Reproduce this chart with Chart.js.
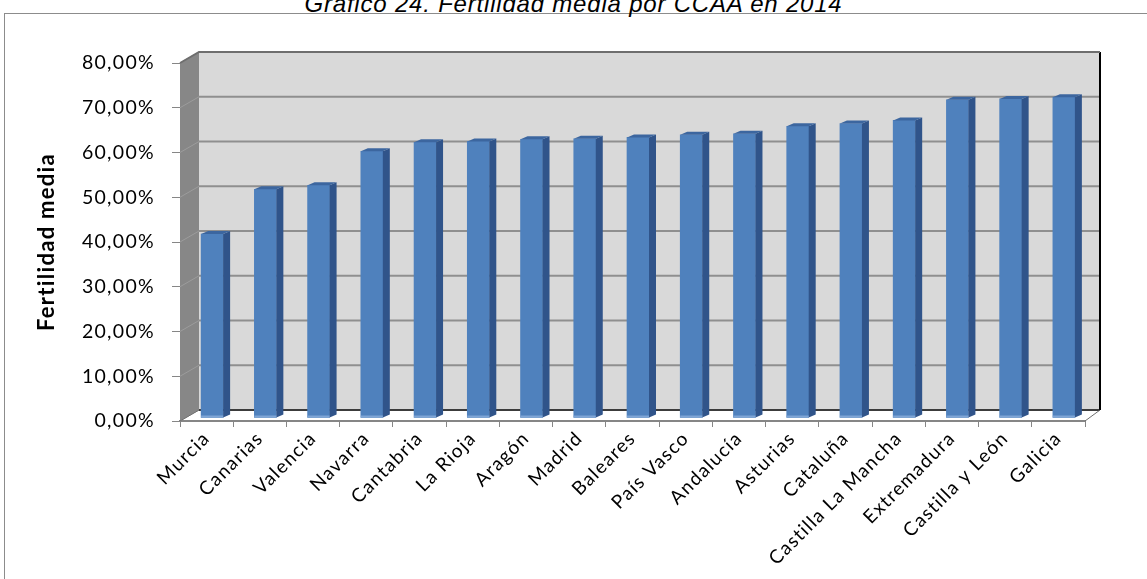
<!DOCTYPE html>
<html>
<head>
<meta charset="utf-8">
<script src="https://cdn.jsdelivr.net/npm/chart.js@4.4.1/dist/chart.umd.min.js"></script>
<style>
  html, body { margin: 0; padding: 0; background: #fff; overflow: hidden; }
  #wrap { position: relative; width: 1147px; height: 579px; }
  #frame { position: absolute; left: 4px; top: 13px; width: 1300px; height: 700px; border: 1px solid #8c8c8c; }
  #title { position: absolute; left: 0; top: -8px; width: 1147px; text-align: center;
           font: italic 24px "Liberation Sans", Arial, sans-serif; letter-spacing: 0.8px; line-height: 1; color: #000; }
  #box { position: absolute; left: 0; top: 0; width: 1147px; height: 579px; }
</style>
</head>
<body>
<div id="wrap">
  <div id="frame"></div>
  <div id="title">Gráfico 24. Fertilidad media por CCAA en 2014</div>
  <div id="box"><canvas id="chart"></canvas></div>
</div>
<script>
const categories = ['Murcia', 'Canarias', 'Valencia', 'Navarra', 'Cantabria', 'La Rioja', 'Aragón',
  'Madrid', 'Baleares', 'País Vasco', 'Andalucía', 'Asturias', 'Cataluña', 'Castilla La Mancha',
  'Extremadura', 'Castilla y León', 'Galicia'];
const fertilidad = [0.411, 0.511, 0.520, 0.596, 0.616, 0.618, 0.623, 0.624, 0.627, 0.633, 0.635,
  0.652, 0.658, 0.665, 0.711, 0.713, 0.717];
const yTickLabels = ['0,00%', '10,00%', '20,00%', '30,00%', '40,00%', '50,00%', '60,00%', '70,00%', '80,00%'];

// the original font is wider than anything installed, so space the letters a bit
const spacing = {
  id: 'spacing',
  beforeLayout(chart) { chart.ctx.letterSpacing = '1.3px'; },
  beforeDraw(chart) { chart.ctx.letterSpacing = '1.3px'; }
};

// fake 3D: back wall, side wall and floor behind the bars
const depth = { dxL: 19, dxR: 15, dy: -11 };
const wallPlugin = {
  id: 'wall',
  beforeDatasetsDraw(chart) {
    const ctx = chart.ctx;
    const a = chart.chartArea;
    const y = chart.scales.y;
    const bl = a.left + depth.dxL, br = a.right + depth.dxR;
    const bt = a.top + depth.dy, bb = a.bottom + depth.dy;
    ctx.save();
    // side wall
    ctx.fillStyle = '#878787';
    ctx.beginPath();
    ctx.moveTo(a.left, a.top); ctx.lineTo(bl, bt); ctx.lineTo(bl, bb); ctx.lineTo(a.left, a.bottom);
    ctx.closePath(); ctx.fill();
    // back wall
    ctx.fillStyle = '#d9d9d9';
    ctx.fillRect(bl, bt, br - bl, bb - bt);
    // gridlines
    y.ticks.forEach(t => {
      const py = y.getPixelForValue(t.value);
      ctx.lineWidth = 2;
      ctx.strokeStyle = '#8f8f8f';
      ctx.beginPath(); ctx.moveTo(bl, py + depth.dy); ctx.lineTo(br, py + depth.dy); ctx.stroke();
      ctx.lineWidth = 1;
      ctx.strokeStyle = '#9c9c9c';
      ctx.beginPath(); ctx.moveTo(a.left, py); ctx.lineTo(bl, py + depth.dy); ctx.stroke();
    });
    // edges
    ctx.lineWidth = 2;
    ctx.strokeStyle = '#3c3c3c';
    ctx.beginPath(); ctx.moveTo(bl, bb); ctx.lineTo(br, bb); ctx.stroke();
    ctx.strokeStyle = '#000';
    ctx.beginPath(); ctx.moveTo(br, bt); ctx.lineTo(br, bb); ctx.stroke();
    ctx.strokeStyle = '#6e6e6e';
    ctx.beginPath(); ctx.moveTo(a.left, a.top); ctx.lineTo(bl, bt); ctx.lineTo(br, bt); ctx.stroke();
    ctx.lineWidth = 1;
    ctx.beginPath(); ctx.moveTo(br, bb); ctx.lineTo(a.right, a.bottom); ctx.stroke();
    ctx.beginPath(); ctx.moveTo(bl, bb); ctx.lineTo(a.left, a.bottom); ctx.stroke();
    ctx.restore();
    // bars sit a little inside the box
    ctx.save();
    ctx.translate(5.5, -3);
  },
  afterDatasetsDraw(chart) {
    const ctx = chart.ctx;
    chart.getDatasetMeta(0).data.forEach(bar => {
      const l = bar.x - bar.width / 2, r = bar.x + bar.width / 2;
      ctx.fillStyle = '#30548a';
      ctx.beginPath();
      ctx.moveTo(r, bar.y); ctx.lineTo(r + 7, bar.y - 3); ctx.lineTo(r + 7, bar.base - 3); ctx.lineTo(r, bar.base);
      ctx.closePath(); ctx.fill();
      ctx.fillStyle = '#3c669f';
      ctx.beginPath();
      ctx.moveTo(l, bar.y); ctx.lineTo(l + 7, bar.y - 3); ctx.lineTo(r + 7, bar.y - 3); ctx.lineTo(r, bar.y);
      ctx.closePath(); ctx.fill();
      ctx.fillStyle = '#7fa5d6';
      ctx.fillRect(l, bar.base - 2, bar.width, 2);
    });
    ctx.restore();
  }
};

new Chart(document.getElementById('chart'), {
  type: 'bar',
  data: {
    labels: categories,
    datasets: [{
      data: fertilidad,
      backgroundColor: '#4f81bd',
      borderWidth: 0,
      barThickness: 22
    }]
  },
  options: {
    responsive: true,
    maintainAspectRatio: false,
    animation: false,
    layout: { padding: { top: 63, right: 62, left: 0, bottom: 0 } },
    scales: {
      x: {
        afterFit: s => { s.height = 158; },
        grid: { drawOnChartArea: false, drawTicks: true, tickLength: 6, color: '#868686' },
        border: { color: '#868686', width: 2 },
        ticks: {
          autoSkip: false, maxRotation: 45, minRotation: 45, padding: 0,
          color: '#000', font: { family: 'Lato', size: 19 }
        }
      },
      y: {
        min: 0, max: 0.8,
        afterFit: s => { s.width = 180; },
        grid: { drawOnChartArea: false, drawTicks: true, tickLength: 8, color: '#868686' },
        border: { color: '#868686', width: 1 },
        ticks: {
          stepSize: 0.1, padding: 17, color: '#000',
          font: { family: 'Lato', size: 19.5 },
          callback: (v, i) => yTickLabels[i]
        },
        title: {
          display: true, text: 'Fertilidad media', color: '#000',
          font: { family: 'Lato', size: 22, weight: 'bold' },
          padding: { top: 34, bottom: 0 }
        }
      }
    },
    plugins: { legend: { display: false }, tooltip: { enabled: false } }
  },
  plugins: [spacing, wallPlugin]
});
</script>
</body>
</html>
